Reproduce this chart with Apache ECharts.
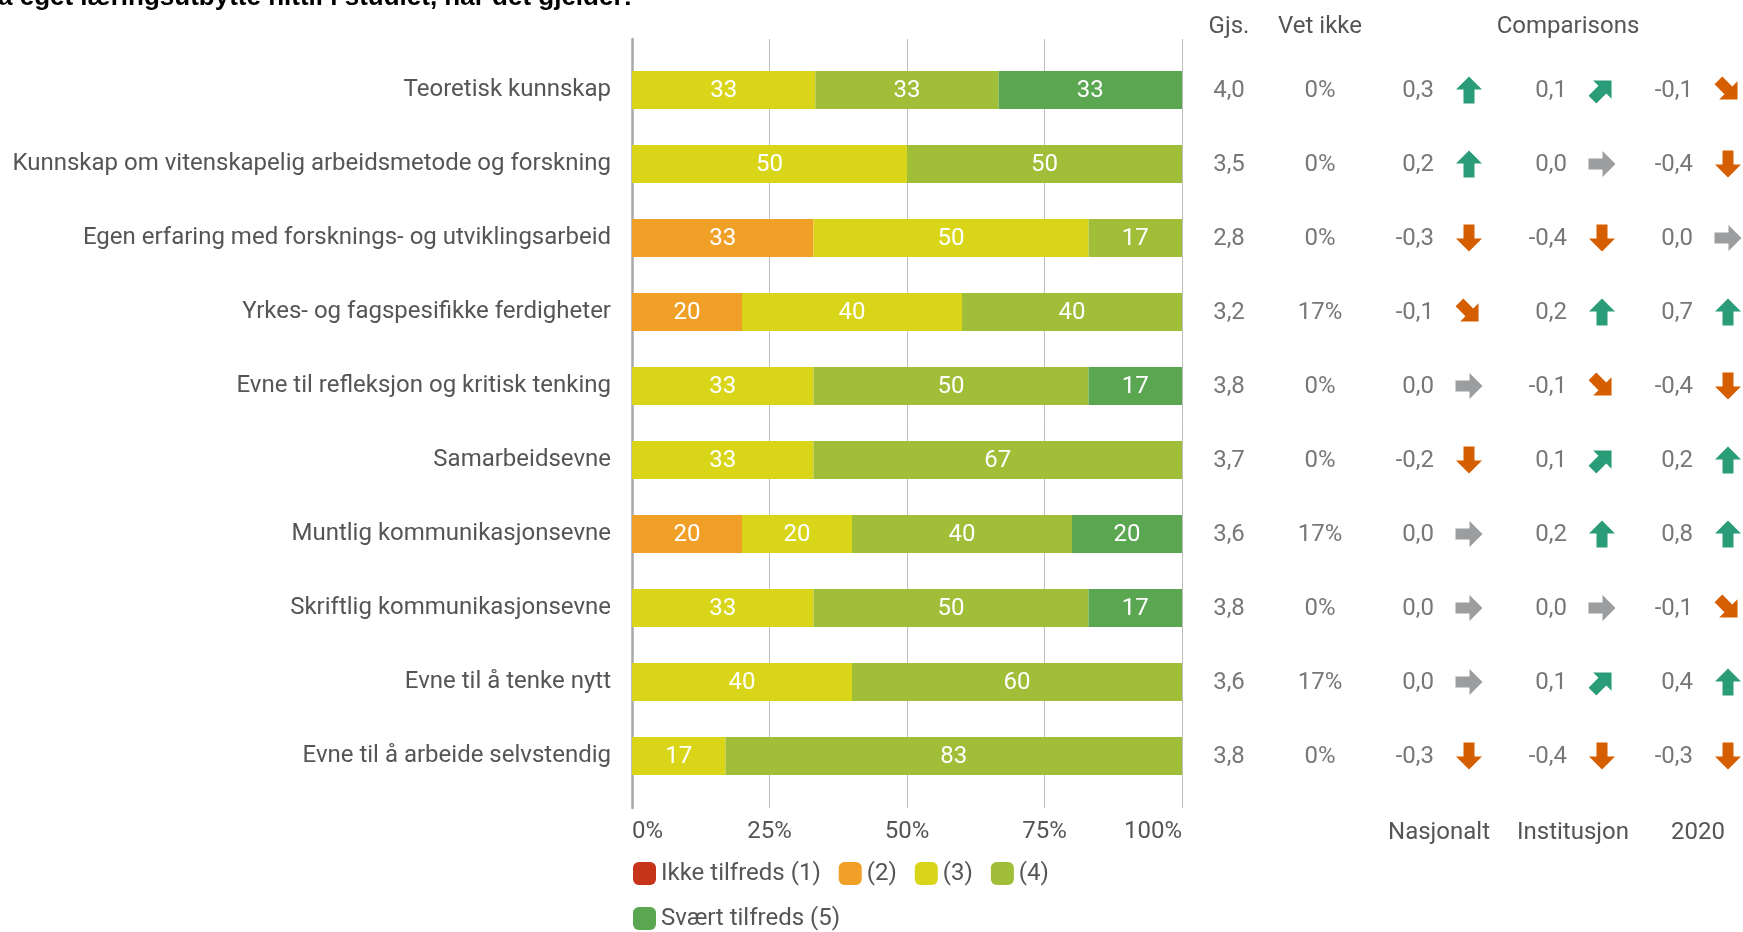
<!DOCTYPE html>
<html>
<head>
<meta charset="utf-8">
<script src="https://cdn.jsdelivr.net/npm/echarts@6/dist/echarts.min.js"></script>
<style>
html,body{margin:0;padding:0;background:#fff;}
#chart{width:1743px;height:932px;}
</style>
</head>
<body>
<div id="chart"></div>
<script>
// ---------- DATA ----------
const categories = [
  'Teoretisk kunnskap',
  'Kunnskap om vitenskapelig arbeidsmetode og forskning',
  'Egen erfaring med forsknings- og utviklingsarbeid',
  'Yrkes- og fagspesifikke ferdigheter',
  'Evne til refleksjon og kritisk tenking',
  'Samarbeidsevne',
  'Muntlig kommunikasjonsevne',
  'Skriftlig kommunikasjonsevne',
  'Evne til å tenke nytt',
  'Evne til å arbeide selvstendig'
];
const seriesNames = ['Ikke tilfreds (1)', '(2)', '(3)', '(4)', 'Svært tilfreds (5)'];
const level1 = [0, 0, 0, 0, 0, 0, 0, 0, 0, 0];
const level2 = [0, 0, 33, 20, 0, 0, 20, 0, 0, 0];
const level3 = [33, 50, 50, 40, 33, 33, 20, 33, 40, 17];
const level4 = [33, 50, 17, 40, 50, 67, 40, 50, 60, 83];
const level5 = [33, 0, 0, 0, 17, 0, 20, 17, 0, 0];
const gjs = [4.0, 3.5, 2.8, 3.2, 3.8, 3.7, 3.6, 3.8, 3.6, 3.8];
const vetIkke = [0, 0, 0, 17, 0, 0, 17, 0, 17, 0];
const nasjonalt = [0.3, 0.2, -0.3, -0.1, 0.0, -0.2, 0.0, 0.0, 0.0, -0.3];
const institusjon = [0.1, 0.0, -0.4, 0.2, -0.1, 0.1, 0.2, 0.0, 0.1, -0.4];
const y2020 = [-0.1, -0.4, 0.0, 0.7, -0.4, 0.2, 0.8, -0.1, 0.4, -0.3];
const xTicks = [0, 25, 50, 75, 100];
const titleText = 'a eget læringsutbytte hittil i studiet, når det gjelder:';
const headerLabels = ['Gjs.', 'Vet ikke', 'Comparisons'];
const compLabels = ['Nasjonalt', 'Institusjon', '2020'];

// ---------- STYLE / LAYOUT ----------
const colors = ['#c8341a', '#f0a026', '#d9d61a', '#a0be37', '#5ba650'];
const TXT = '#555555';
const FONT = 'Roboto';
const COL = { gjs: 1229, vet: 1320, comp: [[1434, 1469], [1567, 1602], [1693, 1728]] };
const ARROW_PATH = 'path://M13,0 L26,13 L18.5,13 L18.5,27 L7.5,27 L7.5,13 L0,13 Z';

const levels = [level1, level2, level3, level4, level5];
const totals = categories.map((_, i) => levels.reduce((s, a) => s + a[i], 0));
const fmt = v => v.toFixed(1).replace('.', ',');

function arrowFor(v) {
  const r = Math.round(v * 10);
  if (r >= 2) return { rot: 0, color: '#2a9d78' };
  if (r === 1) return { rot: -45, color: '#2a9d78' };
  if (r === 0) return { rot: -90, color: '#9b9d9f' };
  if (r === -1) return { rot: -135, color: '#d55e00' };
  return { rot: 180, color: '#d55e00' };
}

const series = [];
levels.forEach((arr, k) => {
  series.push({
    name: seriesNames[k],
    type: 'bar',
    stack: 'total',
    xAxisIndex: 1, yAxisIndex: 1,
    barWidth: 38,
    itemStyle: { color: colors[k] },
    label: {
      show: true, position: 'inside', color: '#fff', fontSize: 24, fontFamily: FONT, offset: [0, 1],
      formatter: p => arr[p.dataIndex] > 0 ? String(arr[p.dataIndex]) : ''
    },
    emphasis: { disabled: true },
    data: arr.map((v, i) => v / totals[i] * 100)
  });
});

function textSeries(values, x, align, f) {
  return {
    type: 'scatter', xAxisIndex: 2, yAxisIndex: 2, silent: true,
    symbolSize: 1, itemStyle: { color: 'rgba(0,0,0,0)' },
    label: {
      show: true, position: 'inside', align: align, verticalAlign: 'middle', offset: [0, 1],
      color: TXT, fontSize: 24, fontFamily: FONT,
      formatter: p => f(values[p.dataIndex])
    },
    data: values.map((v, i) => [x, i])
  };
}
function arrowSeries(values, x) {
  return {
    type: 'scatter', xAxisIndex: 2, yAxisIndex: 2, silent: true,
    symbol: ARROW_PATH, symbolSize: [26, 27],
    data: values.map((v, i) => {
      const a = arrowFor(v);
      return { value: [x, i], symbolRotate: a.rot, itemStyle: { color: a.color, opacity: 1 } };
    })
  };
}
series.push(textSeries(gjs, COL.gjs, 'center', fmt));
series.push(textSeries(vetIkke, COL.vet, 'center', v => v + '%'));
[nasjonalt, institusjon, y2020].forEach((arr, k) => {
  series.push(textSeries(arr, COL.comp[k][0], 'right', fmt));
  series.push(arrowSeries(arr, COL.comp[k][1]));
});

const textStyleBase = { fill: TXT, font: '24px ' + FONT };
const graphics = [
  { type: 'text', style: Object.assign({ text: headerLabels[0], x: COL.gjs, y: 27, align: 'center', verticalAlign: 'middle' }, textStyleBase) },
  { type: 'text', style: Object.assign({ text: headerLabels[1], x: COL.vet, y: 27, align: 'center', verticalAlign: 'middle' }, textStyleBase) },
  { type: 'text', style: Object.assign({ text: headerLabels[2], x: 1568, y: 27, align: 'center', verticalAlign: 'middle' }, textStyleBase) }
];
[1439, 1573, 1698].forEach((x, k) => {
  graphics.push({ type: 'text', style: Object.assign({ text: compLabels[k], x: x, y: 833, align: 'center', verticalAlign: 'middle' }, textStyleBase) });
});
graphics.push({ type: 'text', style: { text: titleText, x: -2, y: 11, align: 'left', verticalAlign: 'bottom', fill: '#000', font: 'bold 26px "Liberation Sans", Arial, sans-serif' } });

const option = {
  animation: false,
  textStyle: { fontFamily: FONT },
  grid: [
    { left: 632, width: 550, top: 39, height: 769 },
    { left: 632, width: 550, top: 53, height: 740 },
    { left: 0, right: 0, top: 53, height: 740 }
  ],
  xAxis: [
    {
      gridIndex: 0, type: 'value', min: xTicks[0], max: xTicks[xTicks.length - 1], interval: 25,
      axisLine: { show: false }, axisTick: { show: false },
      splitLine: { show: true, lineStyle: { color: '#bdbdbd', width: 1 } },
      axisLabel: { formatter: '{value}%', fontSize: 24, color: TXT, fontFamily: FONT, margin: 12,
        alignMinLabel: 'left', alignMaxLabel: 'right' }
    },
    { gridIndex: 1, type: 'value', min: 0, max: 100, show: false },
    { gridIndex: 2, type: 'value', min: 0, max: 1743, show: false }
  ],
  yAxis: [
    {
      gridIndex: 0, type: 'category', data: [''],
      axisLine: { show: true, lineStyle: { color: '#a8a8a8', width: 2.5 } },
      axisTick: { show: false }, axisLabel: { show: false }, splitLine: { show: false }
    },
    {
      gridIndex: 1, type: 'category', data: categories, inverse: true,
      axisLine: { show: false }, axisTick: { show: false },
      axisLabel: { fontSize: 24, color: TXT, fontFamily: FONT, margin: 21, padding: [2, 0, 0, 0] }
    },
    { gridIndex: 2, type: 'category', data: categories, inverse: true, show: false }
  ],
  legend: {
    data: seriesNames,
    left: 633, top: 860, width: 560, padding: 0,
    itemWidth: 23, itemHeight: 23, itemGap: 18,
    icon: 'roundRect',
    selectedMode: false,
    textStyle: { fontSize: 24, color: TXT, fontFamily: FONT, lineHeight: 27 }
  },
  graphic: graphics,
  series: series
};

const chart = echarts.init(document.getElementById('chart'), null, { renderer: 'canvas' });
chart.setOption(option);
</script>
</body>
</html>
